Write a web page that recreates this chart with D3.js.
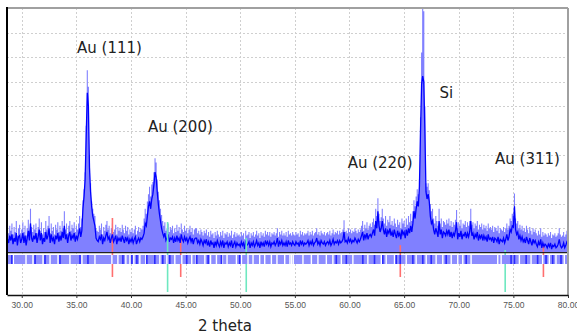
<!DOCTYPE html>
<html>
<head>
<meta charset="utf-8">
<script src="https://cdn.jsdelivr.net/npm/d3@7"></script>
<style>
  body { margin: 0; background: #fff; }
  svg { display: block; }
</style>
</head>
<body>
<svg id="chart" width="577" height="336"></svg>
<script>
// Scan grid (2θ, degrees)
const scanStart = 28.7;
const scanStep = 0.1;

// Measured counts per step (light fill)
const rawCounts = [
  95, 80, 110,
  90, 120, 75, 105, 85, 130, 70, 100, 115, 80,
  95, 125, 85, 110, 70, 100, 135, 90, 180, 105,
  85, 115, 95, 120, 80, 105, 140, 90, 125, 75,
  100, 85, 130, 95, 110, 150, 80, 120, 90, 105,
  75, 115, 95, 125, 85, 110, 90, 130, 100, 170,
  95, 120, 80, 110, 130, 90, 115, 100, 125, 85,
  110, 95, 120, 150, 105, 140, 215, 260, 330, 520,
  748, 680, 400, 285, 210, 180, 160, 150, 100, 90,
  85, 110, 95, 120, 75, 105, 90, 115, 130, 95,
  110, 80, 100, 120, 85, 95, 115, 75, 105, 90,
  100, 85, 115, 95, 80, 110, 90, 105, 75, 95,
  85, 100, 80, 95, 110, 75, 90, 105, 85, 100,
  95, 110, 140, 180, 160, 210, 240, 270, 230, 280,
  290, 330, 387, 370, 300, 250, 215, 180, 155, 130,
  110, 125, 90, 100, 120, 85, 105, 95, 110, 80,
  100, 85, 115, 90, 105, 80, 120, 95, 85, 110,
  90, 100, 80, 95, 110, 85, 100, 75, 95, 100,
  100, 80, 90, 75, 95, 85, 70, 90, 80, 95,
  70, 85, 65, 90, 75, 80, 60, 85, 70, 90,
  75, 65, 85, 70, 90, 60, 80, 75, 85, 65,
  80, 70, 90, 60, 75, 85, 65, 80, 70, 75,
  65, 85, 70, 80, 55, 90, 70, 75, 85, 60,
  80, 70, 85, 65, 75, 90, 70, 80, 60, 85,
  70, 80, 65, 90, 75, 85, 70, 85, 65, 80,
  75, 85, 70, 80, 100, 65, 85, 75, 90, 70,
  80, 70, 85, 65, 90, 75, 80, 70, 85, 75,
  70, 85, 75, 80, 65, 90, 75, 85, 70, 80,
  75, 80, 90, 70, 85, 75, 90, 70, 80, 85,
  100, 75, 85, 70, 90, 80, 75, 85, 70, 80,
  85, 75, 90, 70, 80, 95, 75, 85, 80, 90,
  75, 90, 80, 85, 95, 133, 85, 90, 80, 100,
  85, 95, 80, 90, 85, 100, 90, 80, 95, 85,
  95, 110, 130, 90, 115, 100, 125, 95, 110, 120,
  105, 125, 140, 115, 180, 150, 223, 160, 130, 145,
  180, 140, 120, 150, 110, 135, 125, 150, 115, 130,
  110, 140, 120, 105, 135, 115, 125, 100, 140, 120,
  130, 105, 140, 115, 150, 125, 160, 130, 170, 215,
  190, 230, 260, 240, 300, 555, 820, 1000, 990, 600,
  285, 270, 285, 256, 200, 170, 180, 140, 120, 150,
  130, 110, 180, 120, 140, 105, 130, 125, 115, 135,
  120, 140, 110, 130, 105, 125, 115, 135, 175, 100,
  125, 110, 135, 100, 120, 115, 130, 105, 125, 110,
  130, 180, 115, 125, 100, 120, 110, 130, 95, 115,
  105, 120, 95, 115, 100, 110, 90, 120, 100, 105,
  95, 110, 85, 105, 100, 90, 110, 80, 100, 95,
  90, 105, 85, 100, 120, 95, 110, 140, 130, 160,
  150, 243, 140, 120, 130, 100, 115, 95, 110, 90,
  100, 85, 110, 95, 80, 105, 90, 75, 100, 85,
  95, 80, 70, 90, 75, 100, 65, 85, 70, 80,
  75, 65, 80, 70, 85, 60, 75, 70, 80, 65,
  70, 80, 100, 75, 65, 70, 85, 65, 75, 90,
  85
];

// Processed profile per step (dark line)
const profileCounts = [
  55, 40, 70,
  50, 75, 35, 60, 45, 80, 30, 65, 70, 40,
  55, 80, 40, 70, 30, 60, 90, 50, 120, 60,
  45, 70, 55, 80, 40, 65, 95, 50, 80, 35,
  60, 45, 85, 55, 70, 100, 40, 75, 50, 60,
  35, 70, 55, 80, 45, 70, 50, 85, 60, 110,
  55, 75, 40, 70, 85, 50, 70, 60, 80, 45,
  70, 55, 75, 100, 65, 90, 180, 230, 300, 480,
  655, 600, 350, 250, 190, 150, 130, 110, 60, 50,
  45, 65, 55, 75, 35, 60, 50, 70, 85, 55,
  65, 40, 60, 75, 45, 55, 70, 35, 60, 50,
  60, 45, 70, 55, 40, 65, 50, 60, 35, 55,
  45, 60, 40, 55, 65, 35, 50, 60, 45, 60,
  55, 65, 80, 120, 110, 150, 190, 210, 180, 220,
  240, 280, 330, 310, 250, 200, 160, 130, 100, 80,
  65, 80, 50, 60, 75, 45, 60, 55, 65, 40,
  60, 45, 70, 50, 60, 40, 75, 55, 45, 65,
  50, 60, 40, 55, 65, 45, 60, 35, 55, 60,
  60, 40, 50, 35, 55, 45, 30, 50, 40, 55,
  30, 45, 25, 50, 35, 40, 20, 45, 30, 50,
  35, 25, 45, 30, 50, 20, 40, 35, 45, 25,
  40, 30, 50, 20, 35, 45, 25, 40, 30, 35,
  25, 45, 30, 40, 15, 50, 30, 35, 45, 20,
  40, 30, 45, 25, 35, 50, 30, 40, 20, 45,
  30, 40, 25, 50, 35, 45, 30, 45, 25, 40,
  35, 45, 30, 40, 60, 25, 45, 35, 50, 30,
  40, 30, 45, 25, 50, 35, 40, 30, 45, 35,
  30, 45, 35, 40, 25, 50, 35, 45, 30, 40,
  35, 40, 50, 30, 45, 35, 50, 30, 40, 45,
  60, 35, 45, 30, 50, 40, 35, 45, 30, 40,
  45, 35, 50, 30, 40, 55, 35, 45, 40, 50,
  35, 50, 40, 45, 55, 85, 45, 50, 40, 60,
  45, 55, 40, 50, 45, 60, 50, 40, 55, 45,
  55, 70, 85, 50, 75, 60, 80, 55, 70, 75,
  65, 80, 95, 70, 130, 100, 170, 110, 85, 100,
  130, 95, 75, 100, 65, 90, 80, 100, 70, 85,
  65, 95, 75, 60, 90, 70, 80, 55, 95, 75,
  85, 60, 95, 70, 100, 80, 110, 85, 120, 170,
  140, 180, 210, 190, 270, 500, 690, 724, 700, 500,
  250, 220, 240, 210, 150, 120, 130, 95, 75, 100,
  85, 65, 130, 75, 95, 60, 85, 80, 70, 90,
  75, 95, 65, 85, 60, 80, 70, 90, 125, 55,
  80, 65, 90, 55, 75, 70, 85, 60, 80, 65,
  85, 130, 70, 80, 55, 75, 65, 85, 50, 70,
  60, 75, 50, 70, 55, 65, 45, 75, 55, 60,
  50, 65, 40, 60, 55, 45, 65, 35, 55, 50,
  45, 60, 40, 55, 75, 50, 65, 95, 85, 110,
  105, 190, 95, 75, 85, 55, 70, 50, 65, 45,
  55, 40, 65, 50, 35, 60, 45, 30, 55, 40,
  50, 35, 25, 45, 30, 55, 20, 40, 25, 35,
  30, 20, 35, 25, 40, 15, 30, 25, 35, 20,
  25, 35, 55, 30, 20, 25, 40, 20, 30, 45,
  40
];

// Axis ticks (2θ)
const xTicks = [30, 35, 40, 45, 50, 55, 60, 65, 70, 75, 80];
const yGrid = [100, 200, 300, 400, 500, 600, 700, 800, 900];

// Reference pattern lines (2θ, relative intensity)
const auRefAngles = [38.3, 44.55, 64.65, 77.75];
const auRefIntensity = [100, 68, 54, 54];
const secondRefAngles = [43.35, 50.55, 74.25];
const secondRefIntensity = [100, 77, 60];

// Peak-search strip: gaps and found peaks (2θ)
const stripGaps = [29.23, 30.39, 31.03, 31.95, 32.59, 33.32, 34.41, 35.51, 36.7, 38.25, 38.8,
  39.53, 39.9, 40.26, 40.81, 41.36, 42.64, 43.28, 44.01, 44.65, 45.56, 45.97, 46.76, 47.28,
  47.82, 48.37, 48.79, 49.65, 50.11, 50.71, 51.17, 51.78, 52.24, 52.85, 53.36, 54.07, 54.55,
  54.7, 54.85, 55.74, 56.51, 57.11, 57.88, 58.48, 59.25, 60.31, 61.68, 62.91, 63.36, 64.12,
  65.19, 66.1, 67.02, 67.93, 68.54, 69.31, 69.91, 70.37, 71.13, 73.57, 73.88, 75.55, 76.62,
  77.68, 78.29, 78.9, 79.66];
const stripPeaks = [29.09, 31.22, 32.13, 33.5, 35.33, 36.06, 39.26, 40.08, 40.54, 41.45, 42.18,
  42.91, 43.55, 45.1, 46.02, 47.06, 48.28, 49.95, 58.79, 59.71, 61.22, 62.29, 63.05, 64.28,
  64.64, 65.8, 66.71, 67.48, 68.85, 70.68, 74.79, 75.1, 76.17, 77.22, 77.99, 78.6, 79.36];

// Peak annotations (2θ of text start, counts at baseline)
const labelText = ["Au (111)", "Au (200)", "Au (220)", "Si", "Au (311)"];
const labelAngle = [35.06, 41.55, 59.83, 68.24, 73.32];
const labelCounts = [818, 496, 347, 633, 364];

const svg = d3.select("#chart");

const x = d3.scaleLinear().domain([28.65, 80]).range([7, 568]);
const y = d3.scaleLinear().domain([0, 1000]).range([252.7, 8.7]);

const plotTop = 8, plotBottom = 295;

const series = rawCounts.map((v, i) => ({ a: scanStart + i * scanStep, raw: v, prof: profileCounts[i] }));

// Grid
const grid = svg.append("g").attr("stroke", "#cfcfcf").attr("stroke-width", 1).attr("stroke-dasharray", "2,2");
grid.selectAll("line.v").data(xTicks.filter(d => d < 80)).join("line")
  .attr("class", "v")
  .attr("x1", d => Math.round(x(d)) + 0.5).attr("x2", d => Math.round(x(d)) + 0.5)
  .attr("y1", plotTop).attr("y2", plotBottom);
grid.selectAll("line.h").data(yGrid).join("line")
  .attr("class", "h")
  .attr("x1", x(28.65)).attr("x2", x(80))
  .attr("y1", d => Math.round(y(d)) + 0.5).attr("y2", d => Math.round(y(d)) + 0.5);

// Measured counts as filled area
const area = d3.area().x(d => x(d.a)).y0(y(0)).y1(d => y(d.raw)).curve(d3.curveStep);
svg.append("path").datum(series).attr("d", area).attr("fill", "#8080ff");

// Reference lines (red: Au)
const auScale = d3.scaleLinear().domain([0, 100]).range([0, 59]);
svg.append("g").selectAll("line").data(auRefAngles).join("line")
  .attr("x1", d => x(d)).attr("x2", d => x(d))
  .attr("y1", 277).attr("y2", (d, i) => 277 - auScale(auRefIntensity[i]))
  .attr("stroke", "#ff6f6f").attr("stroke-width", 1.6);

// Processed profile line
const line = d3.line().x(d => x(d.a)).y(d => y(d.prof));
svg.append("path").datum(series).attr("d", line)
  .attr("fill", "none").attr("stroke", "#0000ff").attr("stroke-width", 1.3);

// Second phase reference lines
const secScale = d3.scaleLinear().domain([0, 100]).range([0, 70]);
svg.append("g").selectAll("line").data(secondRefAngles).join("line")
  .attr("x1", d => x(d)).attr("x2", d => x(d))
  .attr("y1", 292).attr("y2", (d, i) => 292 - secScale(secondRefIntensity[i]))
  .attr("stroke", "#6ee8c0").attr("stroke-width", 1.6);

// Zero line
svg.append("line").attr("x1", x(28.65)).attr("x2", x(80))
  .attr("y1", 252.7).attr("y2", 252.7).attr("stroke", "#222").attr("stroke-width", 1.2);

// Peak-search strip
const strip = svg.append("g");
strip.append("rect").attr("x", x(28.65) + 1).attr("y", 255)
  .attr("width", x(80) - x(28.65) - 2).attr("height", 9).attr("fill", "#8c8cff");
strip.selectAll("rect.gap").data(stripGaps).join("rect")
  .attr("class", "gap").attr("x", d => x(d) - 0.7).attr("y", 255)
  .attr("width", 1.4).attr("height", 9).attr("fill", "#ffffff");
strip.selectAll("rect.pk").data(stripPeaks).join("rect")
  .attr("class", "pk").attr("x", d => x(d) - 0.8).attr("y", 255)
  .attr("width", 1.6).attr("height", 9).attr("fill", "#2a2aff");

// Frame
svg.append("line").attr("x1", 7).attr("x2", 568).attr("y1", 8).attr("y2", 8)
  .attr("stroke", "#a0a0a0").attr("stroke-width", 2);
svg.append("line").attr("x1", 568).attr("x2", 568).attr("y1", 8).attr("y2", plotBottom)
  .attr("stroke", "#a0a0a0").attr("stroke-width", 2);
svg.append("line").attr("x1", 7).attr("x2", 7).attr("y1", 7).attr("y2", plotBottom)
  .attr("stroke", "#000").attr("stroke-width", 2);

// Bottom axis
const axis = svg.append("g").attr("transform", `translate(0,${plotBottom})`)
  .call(d3.axisBottom(x).tickValues(xTicks).tickSize(3).tickSizeOuter(0).tickFormat(d3.format(".2f")));
axis.select(".domain").attr("stroke", "#111").attr("stroke-width", 1.5);
axis.selectAll(".tick line").attr("stroke", "#333");
axis.selectAll(".tick text")
  .attr("y", 7).attr("fill", "#555")
  .style("font-family", "'Liberation Sans', Arial, sans-serif").style("font-size", "8.5px");

svg.append("text").attr("x", 198).attr("y", 331)
  .style("font-family", "'DejaVu Sans', sans-serif").style("font-size", "15px").attr("fill", "#222")
  .text("2 theta");

// Peak labels
svg.append("g").selectAll("text").data(labelText).join("text")
  .attr("x", (d, i) => x(labelAngle[i]))
  .attr("y", (d, i) => y(labelCounts[i]))
  .style("font-family", "'DejaVu Sans', sans-serif").style("font-size", "15px").attr("fill", "#222")
  .text(d => d);
</script>
</body>
</html>
